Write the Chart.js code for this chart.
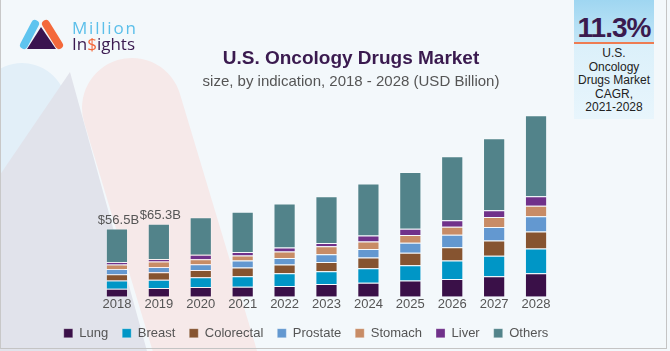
<!DOCTYPE html>
<html><head><meta charset="utf-8">
<script src="https://cdn.jsdelivr.net/npm/chart.js@4"></script>
<style>
html,body{margin:0;padding:0;}
body{width:670px;height:351px;position:relative;overflow:hidden;background:#fff;font-family:"Liberation Sans",Arial,sans-serif;}
#bg{position:absolute;left:0;top:0;z-index:0;}
#frame{position:absolute;left:0;top:0;width:667px;height:349px;box-sizing:border-box;border-left:1px solid #c8c8c8;border-right:1px solid #c4c4c4;border-bottom:1px solid #c4c4c4;z-index:5;pointer-events:none;}
#chart{position:absolute;left:0;top:0;z-index:2;}
.t{position:absolute;z-index:3;white-space:nowrap;}
#title{left:0;width:702px;top:47px;text-align:center;font-weight:bold;font-size:19px;color:#3a1a4f;}
#sub{left:0;width:702px;top:72px;text-align:center;font-size:15px;color:#555;}
#cagr{position:absolute;left:574px;top:0;width:80px;height:119px;z-index:3;background:linear-gradient(#d3edf9,#e8f5fc);}
#cagrTop{position:absolute;left:0;top:0;width:80px;height:42px;background:linear-gradient(#9fd6f1,#c3e6f7);border-bottom:2px solid #ee7c52;}
#pct{position:absolute;left:0;top:12px;width:80px;text-align:center;font-weight:bold;font-size:28px;letter-spacing:-1px;color:#3a1a4f;line-height:32px;}
#cagrTxt{position:absolute;left:0;top:47px;width:80px;text-align:center;font-size:12px;line-height:13.5px;color:#222;}
#logoTxt1{left:72px;top:16px;font-family:"Open Sans",sans-serif;font-size:17px;letter-spacing:1.8px;color:#5bbfea;}
#logoTxt2{left:72px;top:32px;font-family:"Open Sans",sans-serif;font-size:17px;letter-spacing:0px;color:#3b1a50;}
</style></head>
<body>
<svg id="bg" width="670" height="351" xmlns="http://www.w3.org/2000/svg">
  <rect x="0" y="0" width="670" height="351" fill="#f3f8fb"/>
  <rect x="-45" y="-45" width="90" height="600" rx="45" fill="#e2eff8" transform="translate(22,108) rotate(16.7)"/>
  <polygon points="70,72 147,351 -120,351" fill="#e1e3eb"/>
  <rect x="-50" y="-50" width="100" height="600" rx="50" fill="#f6e9e9" transform="translate(132,108) rotate(-16.7)"/>
  <line x1="24" y1="45" x2="35" y2="24" stroke="#5ec4ef" stroke-width="8" stroke-linecap="round"/>
  <line x1="46" y1="24" x2="59" y2="45" stroke="#f4693b" stroke-width="8" stroke-linecap="round"/>
  <polygon points="41,27 27,49 56,49" fill="#3b1450"/>
</svg>
<div class="t" id="logoTxt1">Million</div>
<div class="t" id="logoTxt2">In<span style="color:#f4693b">$</span>ights</div>
<div class="t" id="title">U.S. Oncology Drugs Market</div>
<div class="t" id="sub">size, by indication, 2018 - 2028 (USD Billion)</div>
<div id="cagr"><div id="cagrTop"></div><div id="pct">11.3%</div>
<div id="cagrTxt">U.S.<br>Oncology<br>Drugs Market<br>CAGR,<br>2021-2028</div></div>
<canvas id="chart" width="670" height="351"></canvas>
<div id="frame"></div>
<script>
// Data (USD Billion)
const years = ['2018','2019','2020','2021','2022','2023','2024','2025','2026','2027','2028'];
const lung       = [6.6, 7.2, 8.0, 8.3, 8.8, 10.5, 11.6, 13.5, 14.7, 16.9, 19.4];
const breast     = [6.9, 6.9, 8.1, 8.6, 10.6, 10.6, 12.0, 12.5, 15.2, 17.0, 20.5];
const colorectal = [5.2, 6.1, 6.1, 7.2, 7.2, 7.7, 8.8, 10.5, 11.1, 12.7, 14.1];
const prostate   = [4.2, 4.5, 4.7, 5.8, 5.5, 6.4, 7.2, 8.3, 10.3, 11.1, 12.7];
const stomach    = [3.7, 4.4, 4.2, 4.2, 5.3, 6.6, 6.1, 6.4, 6.6, 8.3, 8.6];
const liver      = [2.2, 2.2, 3.6, 3.0, 3.3, 2.7, 5.0, 5.2, 5.5, 5.6, 8.0];
const others     = [27.8, 29.1, 31.1, 33.2, 36.6, 38.8, 43.0, 46.9, 52.9, 59.6, 67.1];
const totalLabels = ['$56.5B', '$65.3B', '', '', '', '', '', '', '', '', ''];
const seriesNames = ['Lung', 'Breast', 'Colorectal', 'Prostate', 'Stomach', 'Liver', 'Others'];

const seriesValues = [lung, breast, colorectal, prostate, stomach, liver, others];
const seriesColors = ['#3a1048', '#0096c6', '#865430', '#6398d0', '#c88c66', '#70318a', '#52838a'];
const FONT = '"Liberation Sans", Arial, sans-serif';

const valueLabels = {
  id: 'valueLabels',
  afterDatasetsDraw(chart) {
    const ctx = chart.ctx;
    const meta = chart.getDatasetMeta(chart.data.datasets.length - 1);
    ctx.save();
    ctx.font = '13px ' + FONT;
    ctx.fillStyle = '#555';
    ctx.textAlign = 'center';
    ctx.textBaseline = 'alphabetic';
    totalLabels.forEach((t, i) => {
      if (!t) return;
      const el = meta.data[i];
      ctx.fillText(t, el.x + 1.5, el.y - 4.5);
    });
    ctx.restore();
  }
};

new Chart(document.getElementById('chart'), {
  type: 'bar',
  data: {
    labels: years,
    datasets: seriesNames.map((n, k) => ({
      label: n,
      data: seriesValues[k],
      backgroundColor: seriesColors[k],
      borderColor: 'rgba(255,255,255,0.28)',
      borderWidth: 1,
      barPercentage: 0.53,
      categoryPercentage: 1.0
    }))
  },
  options: {
    responsive: false,
    animation: false,
    devicePixelRatio: 1,
    layout: { padding: { left: 0, right: 58, top: 55.3, bottom: 1.3 } },
    scales: {
      x: {
        stacked: true,
        grid: { display: false, drawTicks: false },
        border: { display: false },
        ticks: { color: '#555', font: { size: 13, family: FONT, lineHeight: 1.0 }, padding: 1.5 }
      },
      y: {
        stacked: true,
        min: 0, max: 200,
        grid: { display: false },
        border: { display: false },
        ticks: { display: false },
        afterFit(s) { s.width = 96; }
      },
      yR: {
        type: 'linear',
        position: 'right',
        min: 0, max: 200,
        grid: { display: false },
        border: { display: false },
        ticks: { display: false },
        afterFit(s) { s.width = 55; }
      }
    },
    plugins: {
      legend: {
        position: 'bottom',
        labels: { boxWidth: 9, boxHeight: 9, color: '#555', font: { size: 13, family: FONT }, padding: 14 }
      },
      tooltip: { enabled: false }
    }
  },
  plugins: [valueLabels]
});
</script>
</body></html>
